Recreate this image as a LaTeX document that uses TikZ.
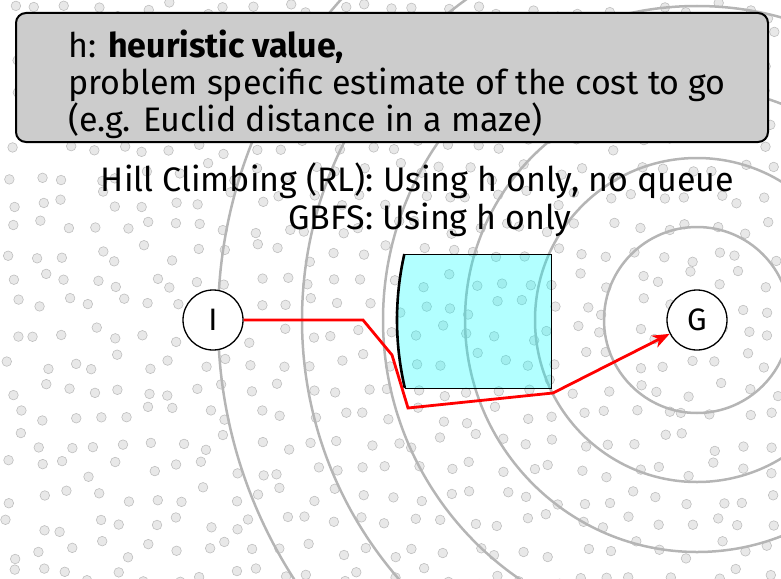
\documentclass[tikz,border=0pt]{standalone}
\usepackage{fontspec}
\setmainfont{Fira Sans}
\usetikzlibrary{arrows.meta}
\definecolor{aqua}{RGB}{0,255,255}
\begin{document}
\begin{tikzpicture}[x=1pt, y=-1pt, >={Stealth[length=17pt,width=13pt,inset=5pt]},
  font=\fontsize{34}{37}\selectfont,
  dotfill/.style={fill=gray!18, draw=gray!50, line width=0.6pt},
  ring/.style={draw=gray!58, line width=2.5pt},
  state/.style={circle, draw, fill=white, line width=1.3pt, minimum size=60pt, inner sep=0pt,
    font=\fontsize{31}{31}\selectfont},
  route/.style={red, line width=2.8pt}]
\useasboundingbox (0,0) rectangle (781,578);
% scattered states
\pgfmathsetseed{7}
\foreach \i in {0,...,28}
  \foreach \j in {0,...,21}
    \draw[dotfill] ({14+27*\i+9*rand},{10+27*\j+9*rand}) circle[radius=4.8pt];
% contours of h around the goal
\foreach \r in {93,162,232,314,395,479}
  \draw[ring] (697,320) circle[radius=\r pt];
% explored region
\fill[aqua, opacity=0.3] (404.35,254) arc[start angle=192.7, end angle=166.9, radius=300]
  -- (551,388) -- (551,254) -- cycle;
\draw[line width=0.9pt] (404.35,254) -- (551,254) -- (551,388) -- (404.9,388);
\draw[line width=2.6pt] (404.35,254) arc[start angle=192.7, end angle=166.9, radius=300];
% start and goal
\node[state] (I) at (213,320) {I};
\node[state] (G) at (697,320) {G};
\coordinate (c1) at (363,320);
\coordinate (c2) at (392,355);
\coordinate (c3) at (408,408);
\coordinate (c4) at (553,393);
\draw[route,->] (I) -- (c1) -- (c2) -- (c3) -- (c4) -- (G);
% explanation
\draw[fill=gray!40, line width=2pt, rounded corners=10pt] (16,13) rectangle (768,142);
\node[anchor=west, align=left, inner sep=0pt] (info) at (68,84)
  {h: \textbf{heuristic value,}\\problem specific estimate of the cost to go\\(e.g. Euclid distance in a maze)};
\node[anchor=base] (hc) at (417.5,191) {Hill Climbing (RL): Using h only, no queue};
\node[anchor=base] (gbfs) at (430,229) {GBFS: Using h only};
\end{tikzpicture}
\end{document}
